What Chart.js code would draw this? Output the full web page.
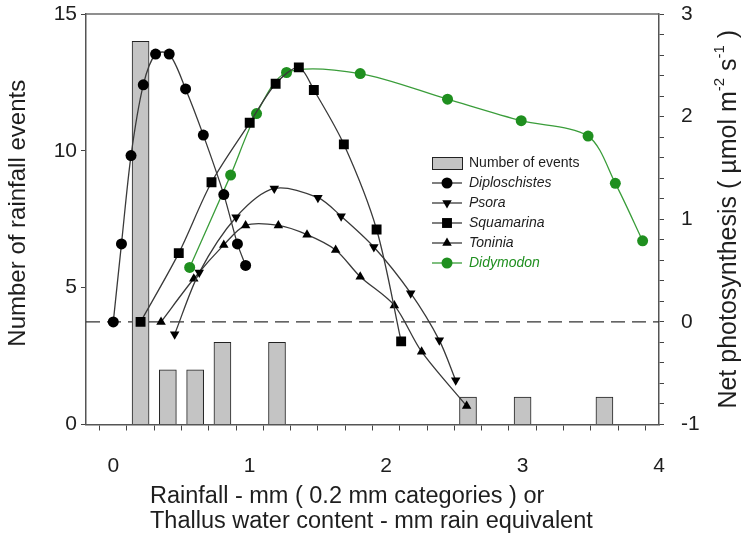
<!DOCTYPE html>
<html>
<head>
<meta charset="utf-8">
<script src="https://cdn.jsdelivr.net/npm/chart.js@4.4.0/dist/chart.umd.min.js"></script>
<style>
  html, body { margin: 0; padding: 0; background: #fff; }
</style>
</head>
<body>
<canvas id="chart" width="742" height="538"></canvas>
<script>
'use strict';

// rainfall categories (mm) and number of events
const rainCats = [0.2, 0.4, 0.6, 0.8, 1.2, 2.6, 3.0, 3.6];
const rainEvents = [14, 2, 2, 3, 3, 1, 1, 1];

// net photosynthesis vs thallus water content
const diploX = [0, 0.06, 0.13, 0.22, 0.31, 0.41, 0.53, 0.66, 0.81, 0.91, 0.97];
const diploY = [0, 0.76, 1.62, 2.31, 2.61, 2.61, 2.27, 1.82, 1.24, 0.76, 0.55];

const psoraX = [0.45, 0.63, 0.90, 1.18, 1.50, 1.67, 1.91, 2.18, 2.39, 2.51];
const psoraY = [-0.12, 0.48, 1.02, 1.30, 1.21, 1.03, 0.73, 0.28, -0.18, -0.57];

const squamX = [0.2, 0.48, 0.72, 1.0, 1.19, 1.36, 1.47, 1.69, 1.93, 2.11];
const squamY = [0, 0.67, 1.36, 1.94, 2.32, 2.48, 2.26, 1.73, 0.90, -0.19];

const toniX = [0.35, 0.59, 0.81, 0.97, 1.21, 1.42, 1.63, 1.81, 2.06, 2.26, 2.59];
const toniY = [0, 0.42, 0.75, 0.94, 0.94, 0.85, 0.70, 0.44, 0.16, -0.29, -0.82];

const didyX = [0.56, 0.86, 1.05, 1.27, 1.81, 2.45, 2.99, 3.48, 3.68, 3.88];
const didyY = [0.53, 1.43, 2.03, 2.43, 2.42, 2.17, 1.96, 1.81, 1.35, 0.79];

const fontName = '"Liberation Sans", Arial, sans-serif';
const ink = '#1e1e1e';
const green = '#1f8f1f';

function toPoints(xs, ys) {
  return xs.map((x, i) => ({ x: x, y: ys[i] }));
}

function isWhole(v) {
  return Math.abs(v - Math.round(v)) < 1e-6;
}

function lineSet(label, xs, ys, style, color, rot) {
  return {
    type: 'line',
    label: label,
    data: toPoints(xs, ys),
    yAxisID: 'y2',
    borderColor: color === green ? '#3a9d3a' : '#3a3a3a',
    borderWidth: 1.3,
    pointStyle: style,
    rotation: rot || 0,
    pointRadius: style === 'rect' ? 7 : 5.5,
    pointBackgroundColor: color,
    pointBorderColor: color,
    pointBorderWidth: 0,
    tension: 0.3,
    fill: false,
    order: 1
  };
}

// keep the plot box where the reference has it
function fixSide(width) {
  return s => {
    s.width = width;
    s.paddingTop = 0;
    s.paddingBottom = 0;
  };
}

// frame + zero line
const framePlugin = {
  id: 'frame',
  beforeDatasetsDraw(chart) {
    const ctx = chart.ctx;
    const a = chart.chartArea;
    const y0 = chart.scales.y2.getPixelForValue(0);
    ctx.save();
    ctx.strokeStyle = '#333';
    ctx.lineWidth = 1.2;
    ctx.setLineDash([14, 7]);
    ctx.beginPath();
    ctx.moveTo(a.left, y0);
    ctx.lineTo(a.right, y0);
    ctx.stroke();
    ctx.restore();
  },
  afterDraw(chart) {
    const ctx = chart.ctx;
    const a = chart.chartArea;
    ctx.save();
    ctx.strokeStyle = '#6a6a6a';
    ctx.lineWidth = 1.5;
    ctx.beginPath();
    ctx.moveTo(a.left, a.top);
    ctx.lineTo(a.right, a.top);
    ctx.stroke();
    ctx.restore();
  }
};

// axis titles
const titlePlugin = {
  id: 'titles',
  afterDraw(chart) {
    const ctx = chart.ctx;
    const a = chart.chartArea;
    const mid = (a.top + a.bottom) / 2;
    ctx.save();
    ctx.fillStyle = ink;
    ctx.textBaseline = 'middle';

    ctx.font = '23.5px ' + fontName;
    ctx.textAlign = 'left';
    ctx.fillText('Rainfall - mm ( 0.2 mm categories ) or', 150, 497);
    ctx.fillText('Thallus water content - mm rain equivalent', 150, 522);

    ctx.save();
    ctx.font = '24px ' + fontName;
    ctx.translate(18, mid - 6);
    ctx.rotate(-Math.PI / 2);
    ctx.textAlign = 'center';
    ctx.fillText('Number of rainfall events', 0, 0);
    ctx.restore();

    // right title with superscripts
    const parts = [
      ['Net photosynthesis ( \u00b5mol m', false],
      ['-2', true],
      [' s', false],
      ['-1', true],
      [' )', false]
    ];
    const big = '25px ' + fontName;
    const small = '15px ' + fontName;
    let total = 0;
    parts.forEach(p => {
      ctx.font = p[1] ? small : big;
      total += ctx.measureText(p[0]).width;
    });
    ctx.save();
    ctx.translate(729, mid);
    ctx.rotate(-Math.PI / 2);
    ctx.textAlign = 'left';
    let px = -total / 2;
    parts.forEach(p => {
      ctx.font = p[1] ? small : big;
      ctx.fillText(p[0], px, p[1] ? -9 : 0);
      px += ctx.measureText(p[0]).width;
    });
    ctx.restore();
    ctx.restore();
  }
};

// legend box inside the plot
const legendPlugin = {
  id: 'boxLegend',
  afterDraw(chart) {
    const ctx = chart.ctx;
    const lx = 432, ly = 163, rowH = 20;
    ctx.save();
    ctx.textBaseline = 'middle';
    ctx.textAlign = 'left';
    const bar = chart.data.datasets[0];
    ctx.fillStyle = bar.backgroundColor;
    ctx.fillRect(lx, ly - 6, 30, 12);
    ctx.strokeStyle = bar.borderColor;
    ctx.lineWidth = 1;
    ctx.strokeRect(lx + 0.5, ly - 5.5, 30, 12);
    ctx.fillStyle = ink;
    ctx.font = '14px ' + fontName;
    ctx.fillText(bar.label, lx + 37, ly);

    for (let i = 1; i < chart.data.datasets.length; i++) {
      const ds = chart.data.datasets[i];
      const y = ly + rowH * i;
      ctx.strokeStyle = ds.borderColor;
      ctx.lineWidth = ds.borderWidth;
      ctx.beginPath();
      ctx.moveTo(lx, y);
      ctx.lineTo(lx + 30, y);
      ctx.stroke();
      ctx.fillStyle = ds.pointBackgroundColor;
      ctx.strokeStyle = ds.pointBorderColor;
      Chart.helpers.drawPoint(ctx, {
        pointStyle: ds.pointStyle,
        rotation: ds.rotation,
        radius: ds.pointRadius,
        borderWidth: 0
      }, lx + 15, y);
      ctx.fillStyle = ds.pointBackgroundColor === green ? green : ink;
      ctx.font = 'italic 14px ' + fontName;
      ctx.fillText(ds.label, lx + 37, y);
    }
    ctx.restore();
  }
};

const tickFont = { family: fontName, size: 21 };

const ctx = document.getElementById('chart').getContext('2d');
const chart = new Chart(ctx, {
  type: 'bar',
  data: {
    datasets: [
      {
        label: 'Number of events',
        data: toPoints(rainCats, rainEvents),
        yAxisID: 'y',
        backgroundColor: '#c4c4c4',
        borderColor: '#222',
        borderWidth: 1,
        barThickness: 17,
        order: 10
      },
      lineSet('Diploschistes', diploX, diploY, 'circle', '#000'),
      lineSet('Psora', psoraX, psoraY, 'triangle', '#000', 180),
      lineSet('Squamarina', squamX, squamY, 'rect', '#000'),
      lineSet('Toninia', toniX, toniY, 'triangle', '#000'),
      lineSet('Didymodon', didyX, didyY, 'circle', green)
    ]
  },
  options: {
    responsive: false,
    animation: false,
    layout: { padding: { top: 14, left: 0, right: 0, bottom: 0 } },
    plugins: {
      legend: { display: false },
      tooltip: { enabled: false }
    },
    scales: {
      x: {
        type: 'linear',
        position: 'bottom',
        min: -0.2,
        max: 4,
        offset: false,
        ticks: {
          stepSize: 0.2,
          autoSkip: false,
          maxRotation: 0,
          font: tickFont,
          color: ink,
          padding: 23,
          callback: v => isWhole(v) ? String(Math.round(v)) : ''
        },
        grid: { drawOnChartArea: false, drawTicks: true, tickLength: 6, color: '#444' },
        border: { display: true, color: '#555', width: 1.5 },
        afterFit: s => {
          s.height = 113.5;
          s.paddingLeft = 0;
          s.paddingRight = 0;
        }
      },
      y: {
        position: 'left',
        min: 0,
        max: 15,
        ticks: { stepSize: 5, font: tickFont, color: ink, padding: 4 },
        grid: { drawOnChartArea: false, drawTicks: true, tickLength: 5, color: '#444' },
        border: { display: true, color: '#555', width: 1.5 },
        afterFit: fixSide(86)
      },
      y2: {
        position: 'right',
        min: -1,
        max: 3,
        ticks: {
          stepSize: 0.2,
          autoSkip: false,
          font: tickFont,
          color: ink,
          padding: 17,
          callback: v => isWhole(v) ? String(Math.round(v)) : ''
        },
        grid: { drawOnChartArea: false, drawTicks: true, tickLength: 5, color: '#444' },
        border: { display: true, color: '#555', width: 1.5 },
        afterFit: fixSide(83)
      }
    }
  },
  plugins: [framePlugin, titlePlugin, legendPlugin]
});
</script>
</body>
</html>
